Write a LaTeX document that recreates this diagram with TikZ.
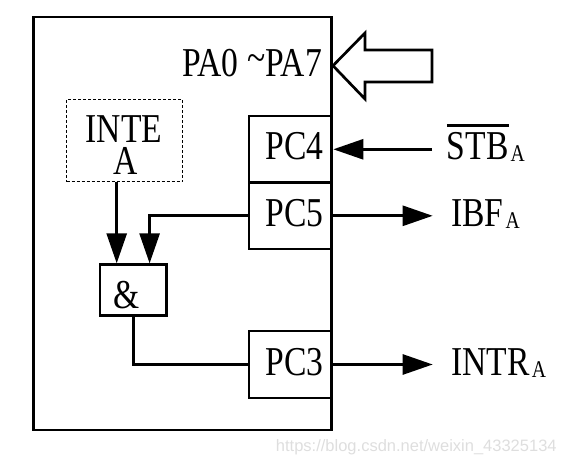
\documentclass[tikz,border=0pt]{standalone}
\usepackage{fontspec}
\usepackage{graphicx}
\usetikzlibrary{arrows.meta}

\newfontfamily\pinfont[FakeStretch=0.82]{Liberation Serif}
\newfontfamily\markfont{Liberation Sans}
\newcommand{\subA}{\hspace{2pt}\raisebox{-2pt}{\fontsize{24}{24}\selectfont A}}
\newcommand{\barover}[1]{\setbox0\hbox{#1}\rlap{\raisebox{\dimexpr\ht0+6pt\relax}{\rule{\wd0}{3pt}}}\box0}

\begin{document}
\begin{tikzpicture}[x=1pt,y=-1pt,line width=2.7pt,>={Triangle[length=30pt,width=20pt]},
    lbl/.style={inner sep=0pt,font=\pinfont\fontsize{41}{32}\selectfont},
    pin/.style={draw,lbl,minimum width=83pt,text width=66pt,align=right,text depth=6pt},
    sig/.style={->,line join=miter}]

\useasboundingbox (0,0) rectangle (568,465);

        % draw the 8255 port A block
        \node[draw,minimum width=298pt,minimum height=413pt] (chip) at (182.5,223.5) {};

        % draw the hollow bus arrow for the data lines
        \draw[line join=miter]
            (432,50) -- (365,50) -- (365,33) -- (333,65.7) -- (365,99) -- (365,82) -- (432,82) -- cycle;
        \node[lbl,anchor=base] (pa) at (252,77) {PA0 \raisebox{5pt}{\textasciitilde}PA7};

        % draw the port C pins
        \node[pin,minimum height=66.7pt] (pc4) at (290.5,149.3) {PC4};
        \node[pin,minimum height=66.3pt] (pc5) at (290.5,215.8) {PC5};
        \node[pin,minimum height=67pt]   (pc3) at (290.5,364.5) {PC3};

        % draw the interrupt enable flag and the and gate
        \node[draw,line width=0.9pt,dash pattern=on 3pt off 2pt,minimum width=116pt,minimum height=82.4pt]
            (inte) at (124.7,140.5) {};
        \node[lbl,anchor=base] (intename) at (124,143)   {INTE};
        \node[lbl,anchor=base] (intesub)  at (125.5,175) {A};
        \node[draw,lbl,minimum width=66.7pt,minimum height=51pt,text width=40pt,align=left,text height=38pt]
            (and) at (133.3,290.2) {\&};

        % the outer signals
        \coordinate (stbin)   at (432,149.3);
        \coordinate (ibfout)  at (432.7,215.8);
        \coordinate (introut) at (432.7,364.5);
        \draw[sig] (stbin) -- (pc4.east);
        \draw[sig] (pc5.east) -- (ibfout);
        \draw[sig] (pc3.east) -- (introut);

        \node[lbl,anchor=base west] (stb)  at (445.5,160) {\barover{STB}\subA};
        \node[lbl,anchor=base west] (ibf)  at (450,227)   {IBF\subA};
        \node[lbl,anchor=base west] (intr) at (450,375)   {INTR\subA};

        % the inner signals
        \coordinate (in1) at ([xshift=-16.6pt]and.north);
        \coordinate (in2) at ([xshift=16.3pt]and.north);
        \draw[sig] (inte.south -| in1) -- (in1);
        \draw[sig] (pc5.west) -| (in2);
        \draw (and.south) |- (pc3.west);

        \node[anchor=base east,inner sep=0pt,text=black!13,font=\markfont\fontsize{16.5}{16.5}\selectfont]
            (mark) at (558,451.7) {https://blog.csdn.net/weixin\_43325134};
\end{tikzpicture}
\end{document}
